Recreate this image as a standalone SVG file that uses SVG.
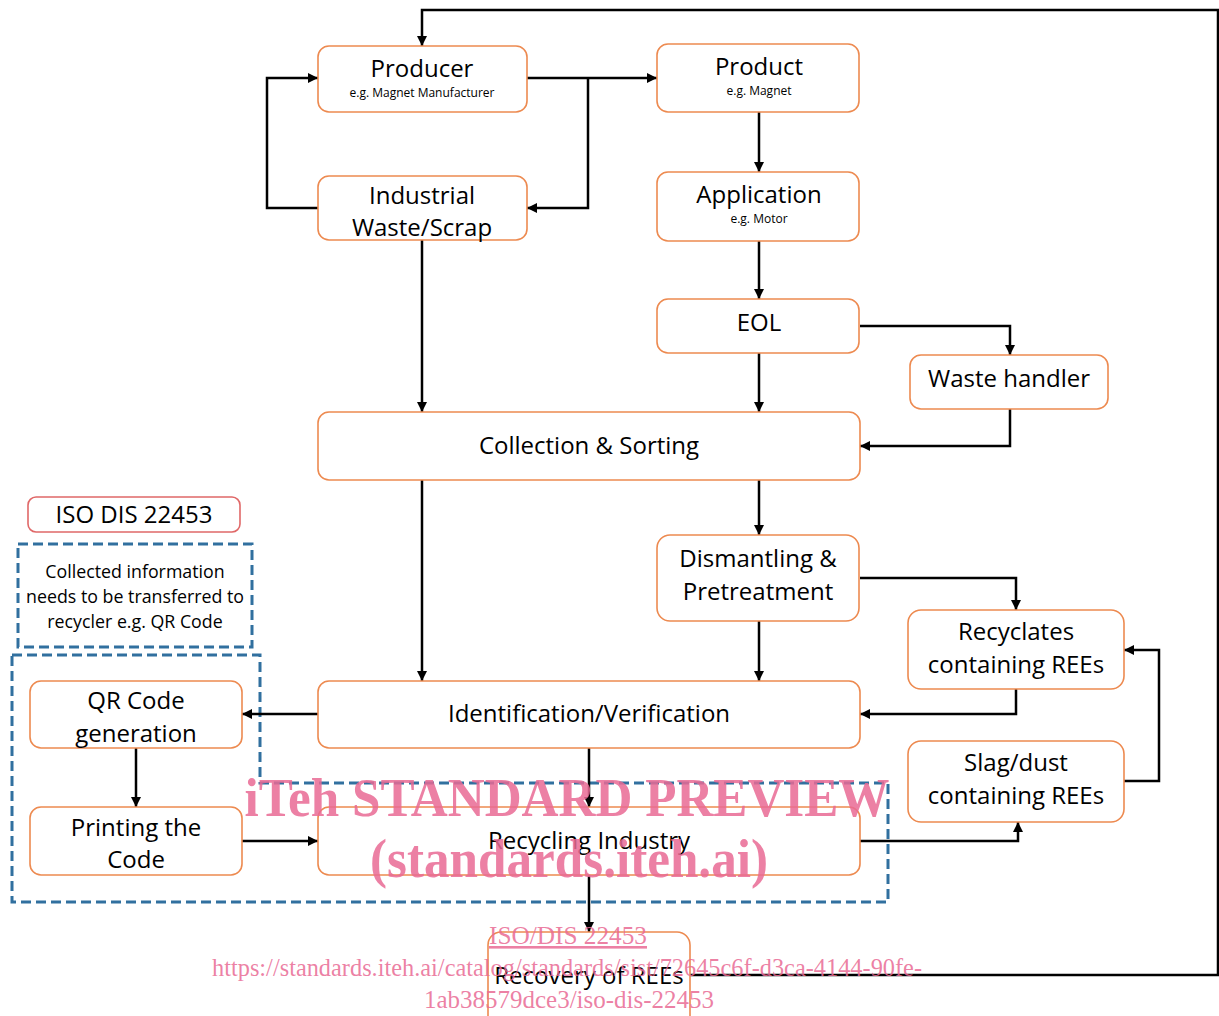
<svg xmlns="http://www.w3.org/2000/svg" width="1219" height="1016" viewBox="0 0 1219 1016">
<defs>
<marker id="ah" viewBox="0 0 10 10" refX="10" refY="5" markerWidth="10" markerHeight="10" markerUnits="userSpaceOnUse" orient="auto">
<path d="M0,0 L10,5 L0,10 z" fill="#000"/>
</marker>
<style>
.box{fill:#fff;stroke:#ED8A50;stroke-width:1.6}
.iso{fill:#fff;stroke:#E06868;stroke-width:1.6}
.dash{fill:none;stroke:#31709F;stroke-width:3;stroke-dasharray:10 5}
.t{font-family:"Open Sans",sans-serif;font-size:24px;fill:#000;text-anchor:middle}
.s{font-family:"Open Sans",sans-serif;font-size:12px;fill:#000;text-anchor:middle}
.m{font-family:"Open Sans",sans-serif;font-size:17.8px;fill:#000;text-anchor:middle}
.c{fill:none;stroke:#000;stroke-width:2.5}
.ca{fill:none;stroke:#000;stroke-width:2.5;marker-end:url(#ah)}
.wm{font-family:"Liberation Serif",serif;fill:#E96A94;fill-opacity:0.85;text-anchor:middle}
</style>
</defs>
<rect width="1219" height="1016" fill="#fff"/>

<g id="dashed-frames">
<rect class="dash" x="18" y="544" width="234" height="103"/>
<path class="dash" d="M12,655 H260 V783 H888 V902 H12 Z"/>
</g>

<g id="connectors">
<path class="ca" d="M690,975 H1218 V10 H422 V46"/>
<path class="ca" d="M527,78 H657"/>
<path class="ca" d="M588,78 V208 H527"/>
<path class="ca" d="M318,208 H267 V78 H318"/>
<path class="ca" d="M422,240 V412"/>
<path class="ca" d="M759,112 V172"/>
<path class="ca" d="M759,241 V299"/>
<path class="ca" d="M759,353 V412"/>
<path class="ca" d="M860,326 H1010 V355"/>
<path class="ca" d="M1010,409 V446 H860"/>
<path class="ca" d="M422,480 V681"/>
<path class="ca" d="M759,480 V535"/>
<path class="ca" d="M759,621 V681"/>
<path class="ca" d="M860,578 H1016 V610"/>
<path class="ca" d="M1016,689 V714 H860"/>
<path class="ca" d="M1124,781 H1159 V650 H1124"/>
<path class="ca" d="M318,714 H242"/>
<path class="ca" d="M136,748 V807"/>
<path class="ca" d="M242,841 H318"/>
<path class="ca" d="M589,748 V807"/>
<path class="ca" d="M860,841 H1018 V822"/>
<path class="ca" d="M589,875 V932"/>
</g>

<g id="producer"><rect class="box" x="318" y="46" width="209" height="66" rx="11"/><text class="t" x="422" y="77">Producer</text><text class="s" x="422" y="97">e.g. Magnet Manufacturer</text></g>
<g id="product"><rect class="box" x="657" y="44" width="202" height="68" rx="11"/><text class="t" x="759" y="75">Product</text><text class="s" x="759" y="95">e.g. Magnet</text></g>
<g id="industrial"><rect class="box" x="318" y="176" width="209" height="64" rx="11"/><text class="t" x="422" y="204">Industrial</text><text class="t" x="422" y="236">Waste/Scrap</text></g>
<g id="application"><rect class="box" x="657" y="172" width="202" height="69" rx="11"/><text class="t" x="759" y="203">Application</text><text class="s" x="759" y="223">e.g. Motor</text></g>
<g id="eol"><rect class="box" x="657" y="299" width="202" height="54" rx="11"/><text class="t" x="759" y="331">EOL</text></g>
<g id="waste-handler"><rect class="box" x="910" y="355" width="198" height="54" rx="11"/><text class="t" x="1009" y="387">Waste handler</text></g>
<g id="collection"><rect class="box" x="318" y="412" width="542" height="68" rx="11"/><text class="t" x="589" y="454">Collection &amp; Sorting</text></g>
<g id="iso-label"><rect class="iso" x="28" y="497" width="212" height="35" rx="8"/><text class="t" x="134" y="523">ISO DIS 22453</text></g>
<g id="info-note"><text class="m" x="135" y="578">Collected information</text><text class="m" x="135" y="603">needs to be transferred to</text><text class="m" x="135" y="628">recycler e.g. QR Code</text></g>
<g id="dismantling"><rect class="box" x="657" y="535" width="202" height="86" rx="13"/><text class="t" x="758" y="567">Dismantling &amp;</text><text class="t" x="758" y="600">Pretreatment</text></g>
<g id="recyclates"><rect class="box" x="908" y="610" width="216" height="79" rx="13"/><text class="t" x="1016" y="640">Recyclates</text><text class="t" x="1016" y="673">containing REEs</text></g>
<g id="qr-code"><rect class="box" x="30" y="681" width="212" height="67" rx="11"/><text class="t" x="136" y="709">QR Code</text><text class="t" x="136" y="742">generation</text></g>
<g id="identification"><rect class="box" x="318" y="681" width="542" height="67" rx="11"/><text class="t" x="589" y="722">Identification/Verification</text></g>
<g id="slag"><rect class="box" x="908" y="741" width="216" height="81" rx="13"/><text class="t" x="1016" y="771">Slag/dust</text><text class="t" x="1016" y="804">containing REEs</text></g>
<g id="printing"><rect class="box" x="30" y="807" width="212" height="68" rx="11"/><text class="t" x="136" y="836">Printing the</text><text class="t" x="136" y="868">Code</text></g>
<g id="recycling"><rect class="box" x="318" y="807" width="542" height="68" rx="11"/><text class="t" x="589" y="849">Recycling Industry</text></g>
<g id="recovery"><rect class="box" x="488" y="932" width="202" height="100" rx="13"/><text class="t" x="589" y="984">Recovery of REEs</text></g>

<g id="watermark">
<text class="wm" x="567" y="816" font-size="54" font-weight="bold" textLength="645" lengthAdjust="spacingAndGlyphs">iTeh STANDARD PREVIEW</text>
<text class="wm" x="569" y="877" font-size="54" font-weight="bold" textLength="398" lengthAdjust="spacingAndGlyphs">(standards.iteh.ai)</text>
<text class="wm" x="568" y="944" font-size="26" text-decoration="underline" textLength="158" lengthAdjust="spacingAndGlyphs">ISO/DIS 22453</text>
<text class="wm" x="567" y="976" font-size="26" textLength="710" lengthAdjust="spacingAndGlyphs">https://standards.iteh.ai/catalog/standards/sist/72645c6f-d3ca-4144-90fe-</text>
<text class="wm" x="569" y="1008" font-size="26" textLength="290" lengthAdjust="spacingAndGlyphs">1ab38579dce3/iso-dis-22453</text>
</g>
</svg>
